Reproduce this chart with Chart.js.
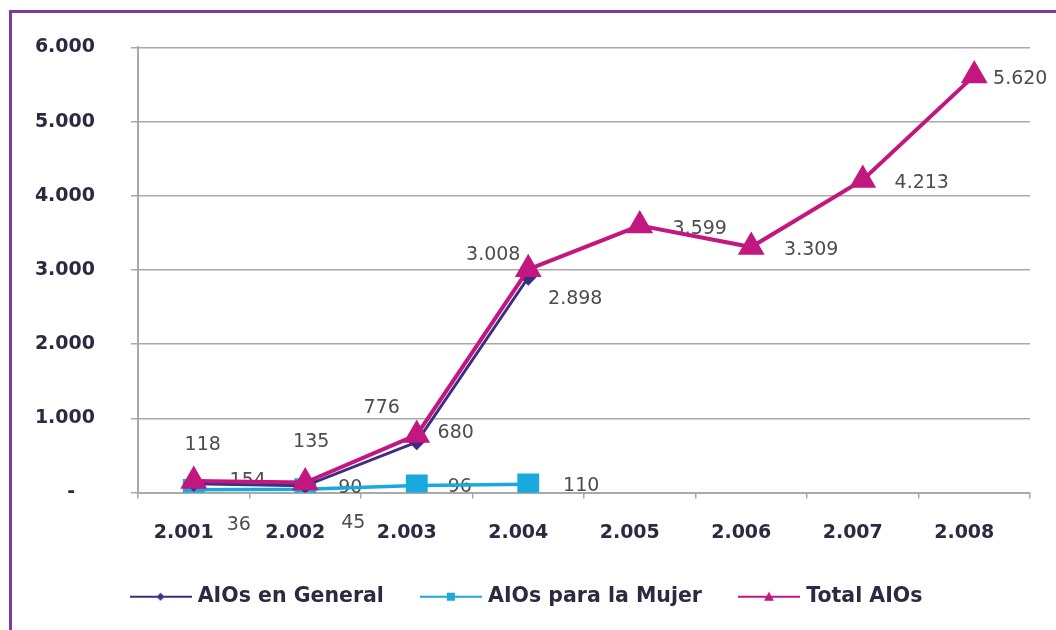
<!DOCTYPE html>
<html>
<head>
<meta charset="utf-8">
<script src="https://cdn.jsdelivr.net/npm/chart.js@4.4.1/dist/chart.umd.min.js"></script>
<style>
  html, body { margin: 0; padding: 0; background: #fff; }
  #wrap { position: relative; width: 1056px; height: 630px; overflow: hidden; }
  #frame { position: absolute; left: 9px; top: 10px; width: 1100px; height: 700px;
           border-left: 3px solid #7e3a9d; border-top: 3px solid #7e3a9d; }
  #chart { position: absolute; left: 0; top: 0; }
</style>
</head>
<body>
<div id="wrap">
  <div id="frame"></div>
  <canvas id="chart" width="1056" height="630"></canvas>
</div>
<script>
// DATA
const years = [2001, 2002, 2003, 2004, 2005, 2006, 2007, 2008];
const aiosGeneral = [118, 90, 680, 2898, null, null, null, null];
const aiosMujer = [36, 45, 96, 110, null, null, null, null];
const totalAios = [154, 135, 776, 3008, 3599, 3309, 4213, 5620];
const yTicks = [0, 1000, 2000, 3000, 4000, 5000, 6000];

// where each value label sits, in px from its point
const generalLabelOffsets = [[9, -39], [45, 2], [39, -9], [47, 22]];
const mujerLabelOffsets = [[45, 35], [48, 34], [43, 2], [53, 2]];
const totalLabelOffsets = [[54, 0], [6, -40], [-35, -27], [-35, -14], [60, 4], [60, 3], [59, 3], [46, 3]];

// COLORS
const GENERAL_COLOR = "#3d2c82";
const MUJER_COLOR = "#19a9dd";
const TOTAL_COLOR = "#c1177f";
const GRID_COLOR = "#a9a9a9";
const TEXT_DARK = "#2c2a40";

// 3.008 style numbers
function fmt(v) {
    return String(v).replace(/\B(?=(\d{3})+(?!\d))/g, ".");
}

// LEGEND ICONS (line + small marker)
function legendIcon(color, shape) {
    const c = document.createElement("canvas");
    c.width = 62;
    c.height = 14;
    const ctx = c.getContext("2d");
    ctx.strokeStyle = color;
    ctx.fillStyle = color;
    ctx.lineWidth = 2;
    ctx.beginPath();
    ctx.moveTo(0, 7);
    ctx.lineTo(62, 7);
    ctx.stroke();
    ctx.beginPath();
    if (shape === "diamond") {
        ctx.moveTo(31, 3); ctx.lineTo(35, 7); ctx.lineTo(31, 11); ctx.lineTo(27, 7);
    } else if (shape === "square") {
        ctx.rect(27, 3, 8, 8);
    } else {
        ctx.moveTo(31, 2); ctx.lineTo(36, 11); ctx.lineTo(26, 11);
    }
    ctx.closePath();
    ctx.fill();
    return c;
}

const legendIcons = [
    legendIcon(GENERAL_COLOR, "diamond"),
    legendIcon(MUJER_COLOR, "square"),
    legendIcon(TOTAL_COLOR, "triangle")
];

// VALUE LABELS
const valueLabels = {
    id: "valueLabels",
    beforeDatasetsDraw(chart) {
        const ctx = chart.ctx;
        const offsets = [generalLabelOffsets, mujerLabelOffsets, totalLabelOffsets];
        ctx.save();
        ctx.font = "19px 'DejaVu Sans'";
        ctx.fillStyle = "#4d4d4d";
        ctx.textAlign = "center";
        ctx.textBaseline = "middle";
        chart.data.datasets.forEach((ds, i) => {
            const meta = chart.getDatasetMeta(i);
            ds.data.forEach((v, j) => {
                if (v == null) return;
                const pt = meta.data[j];
                const off = offsets[i][j];
                ctx.fillText(fmt(v), pt.x + off[0], pt.y + off[1]);
            });
        });
        ctx.restore();
    }
};

const chart = new Chart(document.getElementById("chart"), {
    type: "line",
    data: {
        labels: years.map(fmt),
        datasets: [
            {
                label: "AIOs en General",
                data: aiosGeneral,
                borderColor: GENERAL_COLOR,
                backgroundColor: GENERAL_COLOR,
                borderWidth: 3,
                pointStyle: "rectRot",
                pointRadius: 6,
                order: 2
            },
            {
                label: "AIOs para la Mujer",
                data: aiosMujer,
                borderColor: MUJER_COLOR,
                backgroundColor: MUJER_COLOR,
                borderWidth: 3.5,
                pointStyle: "rect",
                pointRadius: 13,
                order: 3
            },
            {
                label: "Total AIOs",
                data: totalAios,
                borderColor: TOTAL_COLOR,
                backgroundColor: TOTAL_COLOR,
                borderWidth: 4,
                pointStyle: "triangle",
                pointRadius: 11.5,
                order: 1
            }
        ]
    },
    options: {
        responsive: false,
        animation: false,
        devicePixelRatio: 1,
        layout: { padding: { left: 0, right: 0, top: 43, bottom: 13 } },
        plugins: {
            tooltip: { enabled: false },
            legend: {
                position: "bottom",
                labels: {
                    usePointStyle: true,
                    pointStyleWidth: 54,
                    padding: 40,
                    color: TEXT_DARK,
                    font: { family: "'DejaVu Sans'", size: 20.5, weight: "bold" },
                    sort: (a, b) => a.datasetIndex - b.datasetIndex,
                    generateLabels(chart) {
                        const items = Chart.defaults.plugins.legend.labels.generateLabels(chart);
                        items.forEach(it => { it.pointStyle = legendIcons[it.datasetIndex]; });
                        return items;
                    }
                }
            }
        },
        scales: {
            x: {
                offset: true,
                afterFit: s => { s.height = 54; },
                grid: {
                    offset: true,
                    drawOnChartArea: false,
                    drawTicks: true,
                    tickLength: 6,
                    color: GRID_COLOR,
                    lineWidth: 1.5
                },
                border: { display: true, color: GRID_COLOR, width: 2 },
                ticks: {
                    color: TEXT_DARK,
                    padding: 23,
                    labelOffset: -10,
                    maxRotation: 0,
                    font: { family: "'DejaVu Sans'", size: 19, weight: "bold" }
                }
            },
            y: {
                min: 0,
                max: 6000,
                afterFit: s => { s.width = 138; },
                afterBuildTicks: s => { s.ticks = yTicks.map(v => ({ value: v })); },
                grid: {
                    color: GRID_COLOR,
                    lineWidth: 1.5,
                    drawTicks: true,
                    tickLength: 7
                },
                border: { display: true, color: GRID_COLOR, width: 2 },
                ticks: {
                    color: TEXT_DARK,
                    padding: 36,
                    font: { family: "'DejaVu Sans'", size: 19, weight: "bold" },
                    callback: v => v === 0 ? "-   " : fmt(v)
                }
            },
            // empty right margin so the legend centres on the whole page
            margin: {
                type: "linear",
                position: "right",
                afterFit: s => { s.width = 26; },
                grid: { display: false },
                border: { display: false },
                ticks: { display: false }
            }
        }
    },
    plugins: [valueLabels]
});
</script>
</body>
</html>
